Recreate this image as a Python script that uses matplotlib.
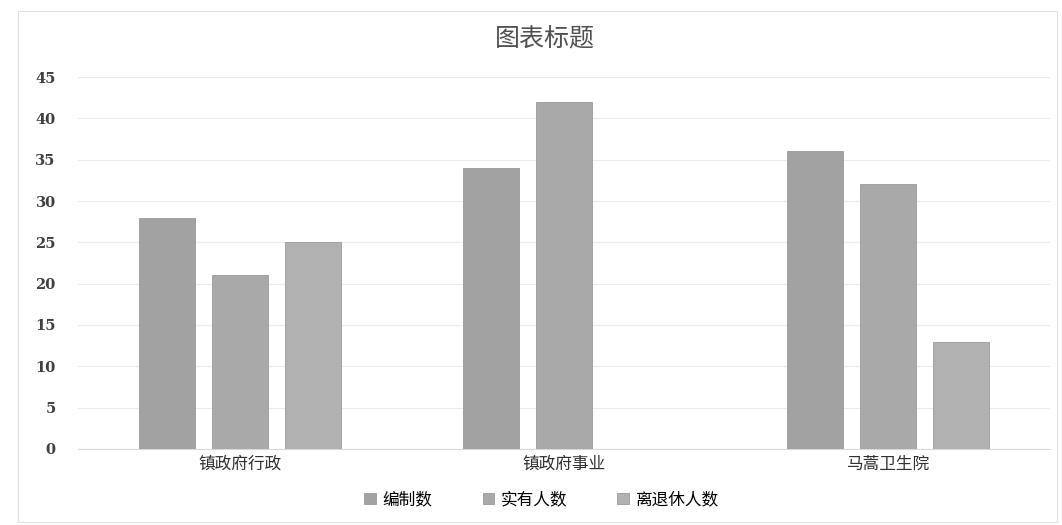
import numpy as np
import matplotlib.pyplot as plt
from matplotlib.patches import Rectangle

plt.rcParams['font.family'] = ['Noto Sans CJK SC', 'DejaVu Sans']

# 数据
categories = ['镇政府行政', '镇政府事业', '马蒿卫生院']
series_names = ['编制数', '实有人数', '离退休人数']
bianzhi = [28, 34, 36]
shiyou = [21, 42, 32]
lituixiu = [25, 0, 13]
yticks = [0, 5, 10, 15, 20, 25, 30, 35, 40, 45]

colors = ['#a2a2a2', '#a9a9a9', '#b1b1b1']

fig = plt.figure(figsize=(10.62, 5.25), dpi=100)
ax = fig.add_axes([0.0734, 0.1448, 0.9153, 0.7085])

x = np.arange(len(categories))
width = 0.173
step = 0.225
for i, vals in enumerate([bianzhi, shiyou, lituixiu]):
    ax.bar(x + (i - 1) * step, vals, width, color=colors[i], label=series_names[i],
           edgecolor='#9a9a9a', linewidth=0.6, zorder=3)

ax.set_ylim(0, 45)
ax.set_xlim(-0.5, 2.5)
ax.set_yticks(yticks)
ax.set_yticklabels([str(v) for v in yticks], family='DejaVu Serif', fontweight='bold',
                   fontsize=10.5, color='#404040')
ax.set_xticks(x)
ax.set_xticklabels(categories, fontsize=12, color='#303030')
ax.tick_params(axis='y', length=0, pad=16)
ax.tick_params(axis='x', length=0, pad=5)
ax.grid(axis='y', color='#ececec', linewidth=0.8, zorder=0)
for s in ['top', 'right', 'left']:
    ax.spines[s].set_visible(False)
ax.spines['bottom'].set_color('#d9d9d9')

fig.text(0.513, 0.925, '图表标题', ha='center', va='center', fontsize=18,
         color='#505050')

fig.legend(loc='center', bbox_to_anchor=(0.51, 0.048), ncol=3, frameon=False,
           fontsize=12, handlelength=0.7, handleheight=0.7, columnspacing=3.0,
           handletextpad=0.4)

fig.patches.append(Rectangle((0.017, 0.005), 0.978, 0.975, transform=fig.transFigure,
                             fill=False, edgecolor='#e0e0e0', linewidth=0.8))

plt.savefig('out.png', dpi=100, facecolor='white')
